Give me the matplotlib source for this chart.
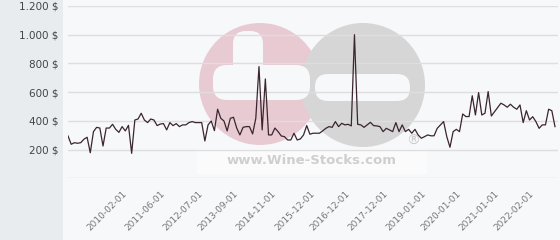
import matplotlib
matplotlib.use("Agg")
import matplotlib.pyplot as plt
from matplotlib.patches import Rectangle, Circle, FancyBboxPatch
import numpy as np

# ---- data ----
prices = [295, 237, 248, 244, 248, 272, 286, 178, 325, 355, 350, 225, 350, 350, 376, 341, 320, 360, 330, 369,
          174, 406, 413, 453, 406, 388, 413, 406, 367, 378, 381, 337, 388, 367, 381, 360, 372, 372, 388, 395,
          388, 388, 388, 260, 372, 399, 332, 481, 418, 399, 330, 418, 425, 350, 302, 355, 360, 360, 309, 418,
          778, 337, 692, 302, 302, 350, 325, 295, 290, 267, 267, 314, 267, 274, 302, 367, 307, 314, 314, 314,
          330, 348, 360, 355, 395, 360, 383, 372, 376, 365, 1000, 376, 372, 355, 372, 390, 367, 365, 360, 325,
          348, 337, 325, 388, 325, 372, 325, 341, 314, 341, 302, 279, 290, 302, 296, 296, 348, 372, 395, 290,
          216, 325, 341, 325, 448, 430, 430, 575, 441, 597, 441, 453, 604, 434, 464, 495, 523, 511, 495, 516,
          495, 481, 511, 388, 471, 406, 429, 395, 348, 372, 372, 481, 471, 360]
tick_labels = ["2010-02-01", "2011-06-01", "2012-07-01", "2013-09-01", "2014-11-01", "2015-12-01",
               "2016-12-01", "2017-12-01", "2019-01-01", "2020-01-01", "2021-01-01", "2022-02-01"]
tick_index = [18, 30, 42, 53, 65, 77, 88, 100, 112, 123, 135, 146]
y_ticks = [0, 200, 400, 600, 800, 1000, 1200]

W, H = 560, 240
fig = plt.figure(figsize=(W / 100, H / 100), dpi=100)
fig.patch.set_facecolor("#e8ecef")

# background / watermark layer in pixel coords
bg = fig.add_axes([0, 0, 1, 1], zorder=0)
bg.set_xlim(0, W)
bg.set_ylim(H, 0)
bg.axis("off")
area = "#f7f8fa"
bg.add_patch(Rectangle((63, 0), W - 63, H, facecolor=area, edgecolor="none"))
# logo circles
pink = "#e8cbd2"
grey = "#d6d6d6"
bg.add_patch(Circle((260, 84), 61, facecolor=pink, edgecolor="none"))
bg.add_patch(Circle((363, 85), 62, facecolor=grey, edgecolor="none"))
# plus sign (upper arm + bar) in pink circle
bg.add_patch(FancyBboxPatch((233, 31), 30, 60, boxstyle="round,pad=0,rounding_size=13",
                            facecolor=area, edgecolor="none"))
bg.add_patch(FancyBboxPatch((213, 65), 97, 35, boxstyle="round,pad=0,rounding_size=14",
                            facecolor=area, edgecolor="none"))
# minus in grey circle
bg.add_patch(FancyBboxPatch((315, 74), 95, 27, boxstyle="round,pad=0,rounding_size=13",
                            facecolor=area, edgecolor="none"))
bg.add_patch(Rectangle((197, 149), 230, 25, facecolor="white", edgecolor="none", alpha=0.5))
bg.text(312, 161, "www.Wine-Stocks.com", ha="center", va="center", fontsize=9.5,
        fontweight="bold", color="#cfcfcf", family="DejaVu Sans")
bg.text(413, 141, "®", ha="center", va="center", fontsize=10, color="#cccccc")

# main axes
left, right = 68 / W, 558 / W
bottom, top = (H - 178.3) / H, (H - 6) / H
ax = fig.add_axes([left, bottom, right - left, top - bottom], zorder=1)
ax.set_facecolor("none")
for s in ax.spines.values():
    s.set_visible(False)

x = np.arange(len(prices))
span = (555 - 68) / (558 - 68)
ax.set_xlim(0, (len(prices) - 1) / span)
ax.set_ylim(0, 1200)
for v in y_ticks:
    ax.axhline(v, color="#dedede", lw=1.0, zorder=1)
ax.plot(x, prices, color="#3a2530", lw=0.9, zorder=3)

ax.set_yticks(y_ticks)
ax.set_yticklabels(["" if v == 0 else f"{v:,}".replace(",", ".") + " $" for v in y_ticks],
                   fontsize=7.5, color="#444444")
ax.set_xticks(tick_index)
ax.set_xticklabels(tick_labels, rotation=45, ha="right", va="center", rotation_mode="anchor",
                   fontsize=6.5, color="#777777")
ax.tick_params(axis="both", length=0)
ax.tick_params(axis="y", pad=7)
ax.tick_params(axis="x", pad=10)

fig.savefig("out.png", dpi=100, facecolor=fig.get_facecolor())
